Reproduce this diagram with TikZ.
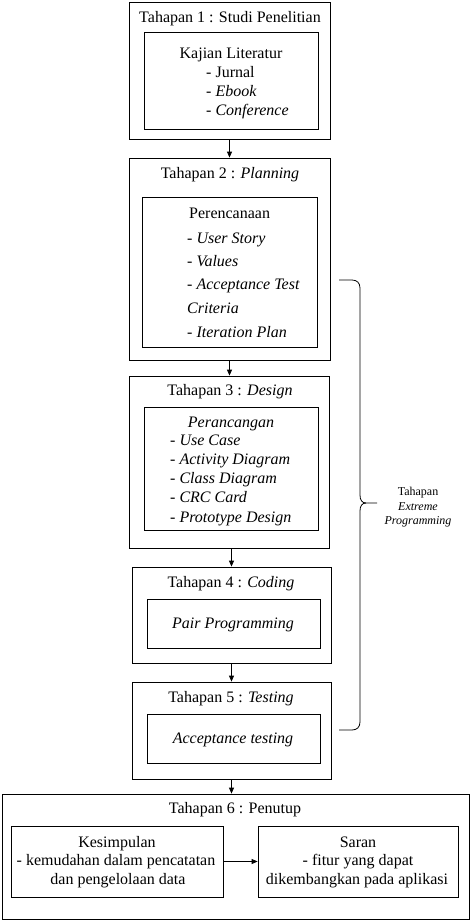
\documentclass[tikz,border=0pt]{standalone}
\usepackage{fontspec}
\setmainfont{Liberation Serif}
\newfontfamily\tnr{Liberation Serif}
\usetikzlibrary{arrows.meta}
\begin{document}
\begin{tikzpicture}[x=1pt,y=-1pt,
  box/.style={draw=black,line width=0.8pt,inner sep=0pt},
  txt/.style={inner sep=0pt,font=\tnr\fontsize{16}{19}\selectfont},
  small/.style={inner sep=0pt,font=\tnr\fontsize{12}{14}\selectfont},
  arr/.style={draw=black,line width=0.8pt,-{Triangle[length=6pt,width=5pt]}}]
\useasboundingbox (0,0) rectangle (471,922);
% boxes
\node[box,minimum width=201pt,minimum height=137pt] (b1) at (229.5,70.5) {};
\node[box,minimum width=174pt,minimum height=97pt] (i1) at (231,80.5) {};
\node[box,minimum width=201pt,minimum height=202pt] (b2) at (229.5,259) {};
\node[box,minimum width=175pt,minimum height=150pt] (i2) at (229.5,272) {};
\node[box,minimum width=200pt,minimum height=172pt] (b3) at (229,462) {};
\node[box,minimum width=174pt,minimum height=123pt] (i3) at (231,468.5) {};
\node[box,minimum width=199pt,minimum height=96pt] (b4) at (231.5,615) {};
\node[box,minimum width=173pt,minimum height=49pt] (i4) at (233.5,623.5) {};
\node[box,minimum width=199pt,minimum height=97pt] (b5) at (231.5,730.5) {};
\node[box,minimum width=173pt,minimum height=49pt] (i5) at (233.5,738.5) {};
\node[box,minimum width=467pt,minimum height=125pt] (b6) at (235.5,856.5) {};
\node[box,minimum width=212pt,minimum height=71pt] (i6a) at (117,861.5) {};
\node[box,minimum width=200pt,minimum height=71pt] (i6b) at (358,861.5) {};
% box 1 text
\node[txt,anchor=base] (t1) at (230,22) {Tahapan 1 : Studi Penelitian};
\node[txt,anchor=base] (t1h) at (231,58) {Kajian Literatur};
\node[txt,anchor=base west] (t1a) at (206,77) {- Jurnal};
\node[txt,anchor=base west] (t1b) at (206,96) {- \textit{Ebook}};
\node[txt,anchor=base west] (t1c) at (206,115) {- \textit{Conference}};
% box 2 text
\node[txt,anchor=base] (t2) at (230,178) {Tahapan 2 : \textit{Planning}};
\node[txt,anchor=base west] (t2h) at (189,218) {Perencanaan};
\node[txt,anchor=base west] (t2a) at (187,243) {- \textit{User Story}};
\node[txt,anchor=base west] (t2b) at (187,266) {- \textit{Values}};
\node[txt,anchor=base west] (t2c) at (187,289) {- \textit{Acceptance Test}};
\node[txt,anchor=base west] (t2d) at (187,313) {\textit{Criteria}};
\node[txt,anchor=base west] (t2e) at (187,337) {- \textit{Iteration Plan}};
% box 3 text
\node[txt,anchor=base] (t3) at (230,395) {Tahapan 3 : \textit{Design}};
\node[txt,anchor=base] (t3h) at (231,427) {\textit{Perancangan}};
\node[txt,anchor=base west] (t3a) at (170,445) {- \textit{Use Case}};
\node[txt,anchor=base west] (t3b) at (170,464) {- \textit{Activity Diagram}};
\node[txt,anchor=base west] (t3c) at (170,483) {- \textit{Class Diagram}};
\node[txt,anchor=base west] (t3d) at (170,502) {- \textit{CRC Card}};
\node[txt,anchor=base west] (t3e) at (170,522) {- \textit{Prototype Design}};
% box 4, 5 text
\node[txt,anchor=base] (t4) at (231,587) {Tahapan 4 : \textit{Coding}};
\node[txt,anchor=base] (t4a) at (233,628) {\textit{Pair Programming}};
\node[txt,anchor=base] (t5) at (231,702) {Tahapan 5 : \textit{Testing}};
\node[txt,anchor=base] (t5a) at (233,743) {\textit{Acceptance testing}};
% box 6 text
\node[txt,anchor=base] (t6) at (235,813) {Tahapan 6 : Penutup};
\node[txt,anchor=base] (t6a) at (117,847) {Kesimpulan};
\node[txt,anchor=base] (t6b) at (116,865) {- kemudahan dalam pencatatan};
\node[txt,anchor=base] (t6c) at (118,884) {dan pengelolaan data};
\node[txt,anchor=base] (t6d) at (358,847) {Saran};
\node[txt,anchor=base] (t6e) at (358,865) {- fitur yang dapat};
\node[txt,anchor=base] (t6f) at (357,884) {dikembangkan pada aplikasi};
% arrows
\draw[arr] (b1.south) -- (b2.north);
\draw[arr] (b2.south) -- (b3.north -| b2.south);
\draw[arr] (b3.south -| b4.north) -- (b4.north);
\draw[arr] (b4.south) -- (b5.north);
\draw[arr] (b5.south) -- (b5.south |- b6.north);
\draw[arr] (i6a.east) -- (i6b.west);
% brace
\coordinate (bt) at (339,280);
\coordinate (bb) at (339,730);
\coordinate (tip) at (377,503);
\draw[line width=0.8pt] (bt) -- (352,280) .. controls (357,280) and (360,283) .. (360,288)
  -- (360,495) .. controls (360,500) and (362,503) .. (366,503) -- (tip);
\draw[line width=0.8pt] (bb) -- (352,730) .. controls (357,730) and (360,727) .. (360,722)
  -- (360,511) .. controls (360,506) and (362,503) .. (366,503);
\node[small,anchor=base] (l1) at (418,495) {Tahapan};
\node[small,anchor=base] (l2) at (418,510) {\textit{Extreme}};
\node[small,anchor=base] (l3) at (418,524) {\textit{Programming}};
\end{tikzpicture}
\end{document}
